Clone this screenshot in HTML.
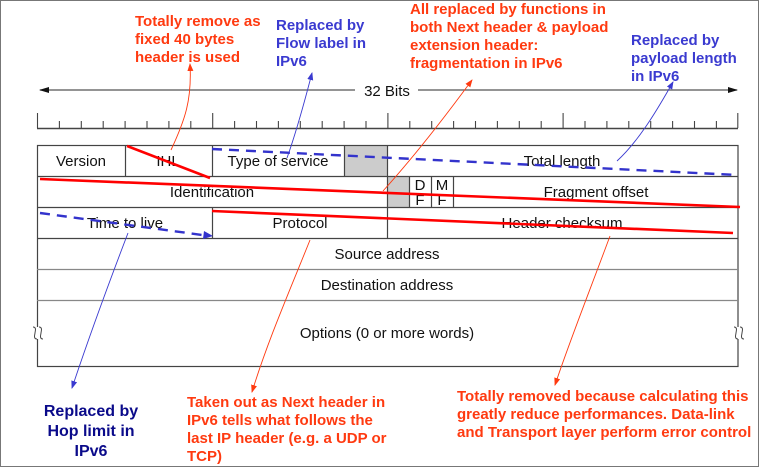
<!DOCTYPE html>
<html><head><meta charset="utf-8"><style>
html,body{margin:0;padding:0;background:#fff}
svg{display:block}
.t{font-family:"Liberation Sans",Arial,sans-serif;font-size:15px;fill:#111}
.a{font-family:"Liberation Sans Narrow","Liberation Sans",sans-serif;font-weight:bold;font-size:15px}
.r{fill:#ff3a10}.b{fill:#3a3ad0}.n{fill:#0a0a8a}
</style></head><body>
<svg width="759" height="467" viewBox="0 0 759 467" xmlns="http://www.w3.org/2000/svg">
<defs>
<marker id="ab" markerWidth="8" markerHeight="8" refX="7" refY="4" orient="auto" markerUnits="userSpaceOnUse"><path d="M0,1 L8,4 L0,7z" fill="#3a3ad0"/></marker>
<marker id="ar" markerWidth="8" markerHeight="8" refX="7" refY="4" orient="auto" markerUnits="userSpaceOnUse"><path d="M0,1 L8,4 L0,7z" fill="#ff3a10"/></marker>
<marker id="ak" markerWidth="10" markerHeight="8" refX="9" refY="4" orient="auto" markerUnits="userSpaceOnUse"><path d="M0,1 L10,4 L0,7z" fill="#111"/></marker>
</defs>
<rect x="0.5" y="0.5" width="758" height="466" fill="#fff" stroke="#777"/>
<line x1="355" y1="90" x2="40" y2="90" stroke="#555" stroke-width="1.3" marker-end="url(#ak)"/>
<line x1="418" y1="90" x2="737" y2="90" stroke="#555" stroke-width="1.3" marker-end="url(#ak)"/>
<text x="387" y="96" class="t" text-anchor="middle">32 Bits</text>
<g stroke="#444" stroke-width="1.5">
<line x1="37" y1="128.5" x2="738" y2="128.5"/>
</g>
<g stroke="#444" stroke-width="1.1">
<line x1="37.5" y1="113" x2="37.5" y2="128"/><line x1="59.4" y1="121" x2="59.4" y2="128"/><line x1="81.3" y1="121" x2="81.3" y2="128"/><line x1="103.2" y1="121" x2="103.2" y2="128"/><line x1="125.1" y1="121" x2="125.1" y2="128"/><line x1="147" y1="121" x2="147" y2="128"/><line x1="168.9" y1="121" x2="168.9" y2="128"/><line x1="190.8" y1="121" x2="190.8" y2="128"/><line x1="212.7" y1="113" x2="212.7" y2="128"/><line x1="234.6" y1="121" x2="234.6" y2="128"/><line x1="256.5" y1="121" x2="256.5" y2="128"/><line x1="278.4" y1="121" x2="278.4" y2="128"/><line x1="300.3" y1="121" x2="300.3" y2="128"/><line x1="322.2" y1="121" x2="322.2" y2="128"/><line x1="344.1" y1="121" x2="344.1" y2="128"/><line x1="366" y1="121" x2="366" y2="128"/><line x1="387.9" y1="113" x2="387.9" y2="128"/><line x1="409.8" y1="121" x2="409.8" y2="128"/><line x1="431.7" y1="121" x2="431.7" y2="128"/><line x1="453.6" y1="121" x2="453.6" y2="128"/><line x1="475.5" y1="121" x2="475.5" y2="128"/><line x1="497.4" y1="121" x2="497.4" y2="128"/><line x1="519.3" y1="121" x2="519.3" y2="128"/><line x1="541.2" y1="121" x2="541.2" y2="128"/><line x1="563.1" y1="113" x2="563.1" y2="128"/><line x1="585" y1="121" x2="585" y2="128"/><line x1="606.9" y1="121" x2="606.9" y2="128"/><line x1="628.8" y1="121" x2="628.8" y2="128"/><line x1="650.7" y1="121" x2="650.7" y2="128"/><line x1="672.6" y1="121" x2="672.6" y2="128"/><line x1="694.5" y1="121" x2="694.5" y2="128"/><line x1="716.4" y1="121" x2="716.4" y2="128"/><line x1="737.8" y1="113" x2="737.8" y2="128"/>
</g>
<rect x="344" y="145" width="43" height="31" fill="#cccccc"/>
<rect x="387" y="176" width="22" height="31" fill="#cccccc"/>
<g stroke="#444" stroke-width="1.2" fill="none">
<rect x="37.5" y="145.5" width="700.5" height="221"/>
<line x1="37" y1="176.5" x2="738" y2="176.5"/>
<line x1="37" y1="207.5" x2="738" y2="207.5"/>
<line x1="37" y1="238.5" x2="738" y2="238.5"/>
<line x1="37" y1="269.5" x2="738" y2="269.5" stroke="#888"/>
<line x1="37" y1="300.5" x2="738" y2="300.5" stroke="#888"/>
<line x1="125.5" y1="145" x2="125.5" y2="176"/>
<line x1="212.5" y1="145" x2="212.5" y2="176"/>
<line x1="344.5" y1="145" x2="344.5" y2="176"/>
<line x1="387.5" y1="145" x2="387.5" y2="238"/>
<line x1="409.5" y1="176" x2="409.5" y2="207"/>
<line x1="431.5" y1="176" x2="431.5" y2="207"/>
<line x1="453.5" y1="176" x2="453.5" y2="207"/>
<line x1="212.5" y1="207" x2="212.5" y2="238"/>
</g>
<!-- break marks -->
<rect x="34" y="327" width="8" height="12" fill="#fff"/><rect x="734" y="327" width="8" height="12" fill="#fff"/>
<g stroke="#444" stroke-width="1" fill="none">
<path d="M33,327 c4,0 2,5 2,6 c0,1 -2,6 2,6"/><path d="M39,327 c4,0 2,5 2,6 c0,1 -2,6 2,6"/>
<path d="M734,327 c4,0 2,5 2,6 c0,1 -2,6 2,6"/><path d="M740,327 c4,0 2,5 2,6 c0,1 -2,6 2,6"/>
</g>
<g class="t" text-anchor="middle">
<text x="81" y="166">Version</text>
<text x="168" y="166">IHL</text>
<text x="278" y="166">Type of service</text>
<text x="562" y="166">Total length</text>
<text x="212" y="197">Identification</text>
<text x="420" y="190">D</text><text x="420" y="205">F</text>
<text x="442" y="190">M</text><text x="442" y="205">F</text>
<text x="596" y="197">Fragment offset</text>
<text x="125" y="228">Time to live</text>
<text x="300" y="228">Protocol</text>
<text x="562" y="228">Header checksum</text>
<text x="387" y="259">Source address</text>
<text x="387" y="290">Destination address</text>
<text x="387" y="338">Options (0 or more words)</text>
</g>
<g stroke="#ff0000" stroke-width="2.6" fill="none">
<line x1="127" y1="146" x2="210" y2="178"/>
<line x1="40" y1="179" x2="740" y2="207"/>
<line x1="212" y1="211" x2="733" y2="233"/>
</g>
<g stroke="#3333cc" stroke-width="2.4" fill="none" stroke-dasharray="10,7">
<line x1="212" y1="149" x2="737" y2="175"/>
<line x1="40" y1="213" x2="206" y2="235.5"/>
</g>
<path d="M204,231 L213,236 L203,239z" fill="#3333cc"/>
<path d="M171,150 C185,120 192,100 190,64" stroke="#ff3a10" fill="none" stroke-width="0.9" marker-end="url(#ar)"/>
<path d="M287,158 C297,130 305,100 312,73" stroke="#3a3ad0" fill="none" stroke-width="0.9" marker-end="url(#ab)"/>
<path d="M383,191 C420,150 450,110 472,80" stroke="#ff3a10" fill="none" stroke-width="0.9" marker-end="url(#ar)"/>
<path d="M617,161 C640,140 660,105 673,82" stroke="#3a3ad0" fill="none" stroke-width="0.9" marker-end="url(#ab)"/>
<path d="M128,233 C110,280 88,340 72,388" stroke="#3a3ad0" fill="none" stroke-width="0.9" marker-end="url(#ab)"/>
<path d="M310,240 C290,290 268,340 252,392" stroke="#ff3a10" fill="none" stroke-width="0.9" marker-end="url(#ar)"/>
<path d="M610,236 C590,290 570,340 555,385" stroke="#ff3a10" fill="none" stroke-width="0.9" marker-end="url(#ar)"/>
<g class="a r">
<text x="135" y="26">Totally remove as</text>
<text x="135" y="44">fixed 40 bytes</text>
<text x="135" y="62">header is used</text>
<text x="410" y="14">All replaced by functions in</text>
<text x="410" y="32">both Next header &amp; payload</text>
<text x="410" y="50">extension header:</text>
<text x="410" y="68">fragmentation in IPv6</text>
<text x="187" y="407">Taken out as Next header in</text>
<text x="187" y="425">IPv6 tells what follows the</text>
<text x="187" y="443">last IP header (e.g. a UDP or</text>
<text x="187" y="461">TCP)</text>
<text x="457" y="401">Totally removed because calculating this</text>
<text x="457" y="419">greatly reduce performances. Data-link</text>
<text x="457" y="437">and Transport layer perform error control</text>
</g>
<g class="a b">
<text x="276" y="30">Replaced by</text>
<text x="276" y="48">Flow label in</text>
<text x="276" y="66">IPv6</text>
<text x="631" y="45">Replaced by</text>
<text x="631" y="63">payload length</text>
<text x="631" y="81">in IPv6</text>
</g>
<g class="a n" text-anchor="middle" style="font-size:16px">
<text x="91" y="416">Replaced by</text>
<text x="91" y="436">Hop limit in</text>
<text x="91" y="456">IPv6</text>
</g>
</svg>
</body></html>
